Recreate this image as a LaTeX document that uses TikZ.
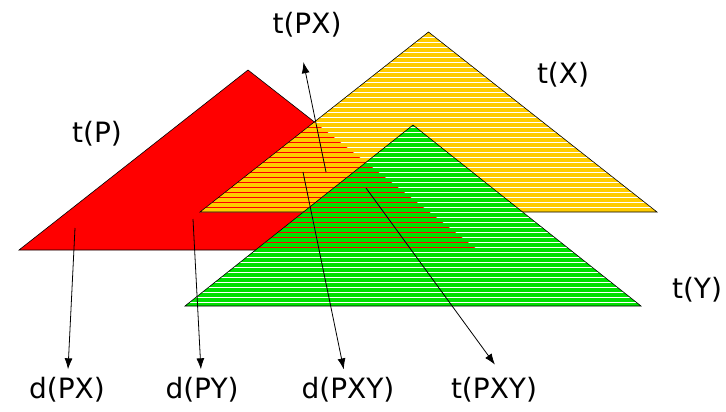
\documentclass[tikz,border=0pt]{standalone}
\usepackage{fontspec}
\setmainfont{DejaVu Sans}
\usetikzlibrary{arrows.meta}
\definecolor{tred}{RGB}{255,0,0}
\definecolor{torange}{RGB}{255,204,0}
\definecolor{tgreen}{RGB}{0,224,0}
\newcommand\mystripes[1]{\foreach \k in {0,...,56}{\draw[#1,line width=1.2pt] (0,37.5+5*\k) -- (726,37.5+5*\k);}}
\begin{document}
\begin{tikzpicture}[x=1pt,y=-1pt,
  lbl/.style={font=\fontsize{28}{32}\selectfont, inner sep=3pt},
  arr/.style={-{Latex[length=11pt,width=8pt]}, line width=0.8pt},
  edgeline/.style={draw=black, line width=0.6pt, line join=miter}]
\useasboundingbox (0,0) rectangle (726,412);
% triangle corners
\coordinate (R1) at (248,70);
\coordinate (R2) at (19,250);
\coordinate (R3) at (478,250);
\coordinate (O1) at (428.5,32);
\coordinate (O2) at (200,212);
\coordinate (O3) at (657,212);
\coordinate (G1) at (413,125);
\coordinate (G2) at (185,306);
\coordinate (G3) at (641,306);
% red triangle t(P)
\path[fill=tred, edgeline] (R1) -- (R2) -- (R3) -- cycle;
% orange triangle t(X)
\fill[torange] (O1) -- (O2) -- (O3) -- cycle;
\begin{scope}
  \clip (O1) -- (O2) -- (O3) -- cycle;
  \mystripes{white}
  \clip (R1) -- (R2) -- (R3) -- cycle;
  \mystripes{tred}
\end{scope}
\draw[edgeline] (O1) -- (O2) -- (O3) -- cycle;
% green triangle t(Y)
\fill[tgreen] (G1) -- (G2) -- (G3) -- cycle;
\begin{scope}
  \clip (G1) -- (G2) -- (G3) -- cycle;
  \mystripes{white}
  \clip (R1) -- (R2) -- (R3) -- cycle;
  \mystripes{tred}
\end{scope}
\draw[edgeline] (G1) -- (G2) -- (G3) -- cycle;
% labels
\node[lbl] (tP) at (97,134) {t(P)};
\node[lbl] (tX) at (563,75) {t(X)};
\node[lbl] (tY) at (697,290) {t(Y)};
\node[lbl] (tPX) at (307,25) {t(PX)};
\node[lbl] (dPX) at (67,390) {d(PX)};
\node[lbl] (dPY) at (202,390) {d(PY)};
\node[lbl] (dPXY) at (348,390) {d(PXY)};
\node[lbl] (tPXY) at (494,390) {t(PXY)};
% arrow starts
\coordinate (aTPX) at (326,172);
\coordinate (aDPX) at (75,228);
\coordinate (aDPY) at (193,219);
\coordinate (aDPXY) at (303,172);
\coordinate (aTPXY) at (366,188);
% arrows
\draw[arr, shorten >=22pt] (aTPX) -- ([xshift=-8pt]tPX.south);
\draw[arr, shorten >=5pt] (aDPX) -- (dPX);
\draw[arr, shorten >=5pt] (aDPY) -- (dPY);
\draw[arr, shorten >=5pt] (aDPXY) -- (dPXY);
\draw[arr, shorten >=12pt] (aTPXY) -- ([xshift=8pt]tPXY.north);
\end{tikzpicture}
\end{document}
